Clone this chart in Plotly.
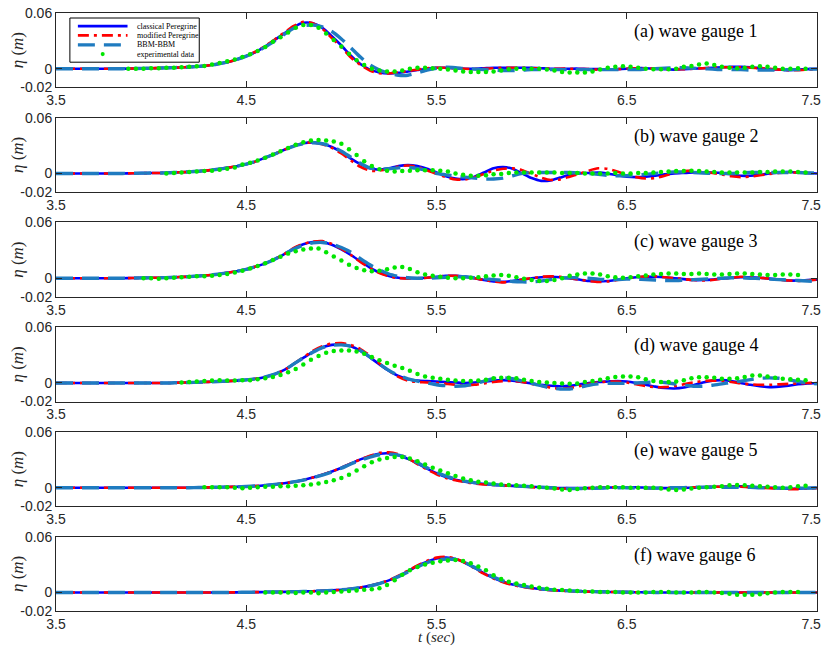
import numpy as np
import plotly.graph_objects as go
from plotly.subplots import make_subplots

# time axis: models sampled every 0.05 s from 3.5 s, measurements every 0.04 s
t_model_start = 3.5
dt_model = 0.05
dt_exp = 0.04

# surface elevation in mm, one list per gauge and model
# gauge 1
cp_1 = [0, 0, 0, 0, 0, 0, 0, 0, 0.2, 0.3,
        0.5, 0.7, 1, 1.3, 1.8, 2.5, 3.5, 5, 7, 10,
        13.5, 18, 24, 31, 38, 45, 49.5, 49, 44, 35,
        25, 14, 5, -1, -4, -5, -4.5, -3, -1.5, 0,
        1, 1, 0.5, 0, 0, 0.5, 1, 1, 1, 1,
        1, 0.5, 0, 0, 0, 0, -0.5, -0.5, -1, -0.5,
        0, 0.5, 0.5, 0, -0.5, -1, -0.5, 0, 0.5, 1,
        1.5, 2, 2, 1.5, 0.5, -0.5, -1, -1.5, -1, -0.5,
        0]
mp_1 = [0, 0, 0, 0, 0, 0, 0, 0, 0.2, 0.3,
        0.5, 0.7, 1, 1.3, 1.8, 2.5, 3.5, 5, 7, 10,
        13.5, 18.5, 24.5, 31.5, 39, 46, 50.5, 49, 43, 33,
        23, 12, 4, -2, -5, -5, -4, -2.5, -1, 0.5,
        1, 1, 0.5, 0, -0.5, 0, 0.5, 1, 1, 1,
        0.5, 0.5, 0, 0, 0, -0.5, -0.5, -1, -1, -0.5,
        0, 0.5, 0.5, 0, -0.5, -0.5, -0.5, 0, 0.5, 1,
        1.5, 1.5, 1.5, 1, 0.5, 0, -1, -1.5, -1.5, -1,
        -0.5]
bb_1 = [0, 0, 0, 0, 0, 0, 0, 0, 0.2, 0.3,
        0.5, 0.7, 1, 1.3, 1.8, 2.5, 3.5, 5, 7, 10,
        13.5, 18, 23.5, 30, 37, 43.5, 46.5, 47, 45, 40,
        32, 22.5, 12.5, 4, -1.5, -5, -7, -7, -4.5, -1.5,
        0.5, 1.5, 1, 0, -0.5, -1, -1.5, -2, -2, -1.5,
        -1, -1, -1, -1, -1, -1, -1, -1, -1, -1,
        -1, -1, -0.5, 0, 0.5, 1, 1, 0.5, 0, -0.5,
        -1, -1, -1, -1.5, -1.5, -1.5, -1.5, -1, -1, -0.5,
        -0.5]
ex_1 = [0, 0, 0, 0.5, 0.5, 1, 1, 1.5, 2, 2.5,
        3, 4.5, 6, 8, 10, 12.5, 15.5, 19, 23.5, 29,
        34, 39, 44, 47, 47, 44, 38, 31, 24, 16,
        9, 4, 0, -2, -3, -3, -2, 0, 1, 1,
        0.5, 0, -1, -2, -3, -3.5, -3.5, -3.5, -3, -2,
        -0.5, 0, 0, 0, 0, -1, -2, -3.5, -4, -4,
        -4, -3, -1, 1, 2, 2.5, 2, 1, 0, -0.5,
        -0.5, -0.5, 0, 2, 3, 4.5, 5.5, 4, 2, 1,
        0.5, 1, 2, 2.5, 2, 1, 0, 0, 0.5, 0]

# gauge 2
cp_2 = [0, 0, 0, 0, 0, 0, 0, 0, 0.2, 0.3,
        0.4, 0.5, 0.8, 1.2, 1.7, 2.4, 3.3, 4.5, 6, 7.8,
        10, 13, 17, 21, 25.5, 29.5, 32.5, 33.5, 32, 28.5,
        23, 16, 10, 5.5, 4, 5.5, 8, 9, 8, 5,
        1, -3, -5.5, -6, -3.5, 1, 5.5, 7, 5, 0,
        -5, -8, -7.5, -4.5, -1.5, 0, 0.5, 1, 0, -2,
        -3.5, -4, -3.5, -2.5, -1, 0, 0.5, 1, 1, 1,
        0.5, -1, -2.5, -2.5, -1.5, 0, 1, 1.5, 1, 0.5,
        0]
mp_2 = [0, 0, 0, 0, 0, 0, 0, 0, 0.2, 0.3,
        0.4, 0.5, 0.8, 1.2, 1.7, 2.4, 3.3, 4.5, 6, 7.8,
        10, 13, 17, 21, 25.5, 29.5, 32.5, 33.5, 31.5, 27.5,
        21.5, 14, 7, 3, 3, 5, 7.5, 8.5, 7, 3.5,
        -0.5, -4, -6.5, -6.5, -4, -0.5, 3, 5, 5.5, 3.5,
        -0.5, -4.5, -7, -6.5, -3.5, -0.5, 3, 5.5, 5, 2,
        -1.5, -4, -5.5, -5, -2.5, 0.5, 2.5, 3, 2, 0.5,
        -1, -3, -4, -3.5, -2, -0.5, 0.5, 1, 1, 0.5,
        0]
bb_2 = [0, 0, 0, 0, 0, 0, 0, 0, 0.2, 0.3,
        0.4, 0.5, 0.8, 1.2, 1.7, 2.4, 3.3, 4.5, 6, 7.8,
        10, 13, 17, 21, 25.5, 29.5, 32, 33, 32, 29,
        24, 17.5, 11, 6, 4.5, 5, 6, 6.5, 5.5, 3,
        0, -1.5, -3, -4, -5, -6, -6, -5, -2.5, 0,
        1, 1, 1, 1, 1, 0.5, 0, -1, -2, -2.5,
        -2.5, -2, -1, 0, 1, 1.5, 1.5, 1, 0.5, 0,
        0, 0, 0.5, 1, 1, 1, 1, 1, 1, 0.5,
        0.5]
ex_2 = [0, 0.5, 1, 1.5, 2, 2.5, 3, 4, 5, 6.5,
        9.5, 11.5, 14, 17, 20.5, 24, 27.5, 31, 33.5, 35.5,
        36, 35.5, 34.5, 32, 26, 20, 13, 8, 4.5, 3,
        2, 2.5, 3, 3.5, 3.5, 3.5, 3, 2, 0, -1.5,
        -2.5, -2.5, -2, -1, -0.5, 0.5, 1, 1, 1, 1,
        1, 1, 0.5, 0.5, 0.5, 0, 0, 0, 0, 0.5,
        0, 0, 0.5, 0.5, 1, 1.5, 2, 2.5, 2.5, 3,
        2.5, 2, 1.5, 1, 1, 1, 1, 1, 1.5, 1.5,
        2, 2, 2, 1.5, 1]

# gauge 3
cp_3 = [0, 0, 0, 0, 0, 0, 0, 0, 0.2, 0.3,
        0.4, 0.5, 0.8, 1.2, 1.7, 2.4, 3.2, 4.3, 5.8, 7.5,
        9.5, 12.5, 16, 20.5, 26, 32, 36.5, 39, 39, 36,
        31, 25, 18, 11.5, 6, 2.5, 0.5, 0, 0, 0.5,
        1.5, 2.5, 2.5, 1.5, 0, -2, -3.5, -4, -3, -1.5,
        0, 1, 1.5, 1, 0, -1.5, -3, -3.5, -3, -1.5,
        0, 1, 1.5, 1.5, 1, 0, -1, -2, -2, -1.5,
        -0.5, 0.5, 1, 1, 0.5, -0.5, -1.5, -2.5, -2.5, -2,
        -1.5]
mp_3 = [0, 0, 0, 0, 0, 0, 0, 0, 0.2, 0.3,
        0.4, 0.5, 0.8, 1.2, 1.7, 2.4, 3.2, 4.3, 5.8, 7.5,
        9.5, 12.5, 16, 20.5, 26, 32.5, 37, 39.5, 40, 37,
        31.5, 25, 17.5, 11, 5.5, 2, 0, -0.5, 0, 0.5,
        1.5, 2.5, 2.5, 1.5, 0, -2, -3.5, -4.5, -3.5, -1.5,
        0, 1.5, 2, 1.5, 0, -1.5, -3, -4, -3.5, -2,
        0, 1, 2, 2, 1, 0, -1, -2, -2.5, -2,
        -0.5, 0.5, 1.5, 1.5, 0.5, -0.5, -1.5, -2.5, -3, -2.5,
        -1.5]
bb_3 = [0, 0, 0, 0, 0, 0, 0, 0, 0.2, 0.3,
        0.4, 0.5, 0.8, 1.2, 1.7, 2.4, 3.2, 4.3, 5.8, 7.5,
        9.5, 12.5, 16, 20.5, 26, 31.5, 35.5, 38, 38.5, 37,
        33, 28, 21, 14.5, 9, 4.5, 2, 0.5, 0, 0,
        0.5, 1, 1.5, 1.5, 0.5, -0.5, -1.5, -2.5, -3.5, -4,
        -4, -3, -1.5, 0, 0.5, 0.5, 0, -1, -1.5, -1.5,
        -1, -1, -1.5, -2, -2.5, -2.5, -2, -1.5, -1, -0.5,
        0, 0.5, 0.5, 0, -0.5, -1, -1.5, -2, -2.5, -3,
        -3.5]
ex_3 = [0, 0, -0.5, 0, 0.5, 1, 1.5, 2, 2, 2.5,
        3.5, 4.5, 6, 8, 10.5, 13, 16, 19.5, 23, 26.5,
        29, 31, 32, 32, 28, 23.5, 19, 14.5, 11, 8.5,
        7.5, 8, 9.5, 11.5, 12, 10, 6.5, 4, 2.5, 1.5,
        0.5, 0, 0, 0.5, 1, 2, 3, 3.5, 2.5, 1,
        -0.5, -2, -3, -3, -2, 0, 2.5, 4, 5, 5,
        4, 2, 1, 0.5, 1, 2, 3, 4, 4.5, 5,
        5, 4.5, 4.5, 5, 4.5, 4, 4, 4.5, 5, 5,
        4.5, 4, 3.5, 3.5, 4, 4, 3.5]

# gauge 4
cp_4 = [0, 0, 0, 0, 0, 0, 0, 0, 0, 0,
        0, 0, 0, 0.3, 0.5, 0.8, 1.1, 1.5, 2, 2.5,
        3.3, 4.5, 6.5, 9.5, 14, 20.5, 27, 33.5, 38.5, 41,
        41.5, 39.5, 34.5, 27.5, 20, 13, 7.5, 4, 2.5, 2,
        1.5, 1, 0.5, 0, 0.5, 1.5, 2.5, 3, 2.5, 1,
        -0.5, -2, -3, -3.5, -3, -1.5, 0, 1, 1.5, 2,
        1.5, 0, -2, -4, -5.5, -6, -5, -2.5, 0.5, 2.5,
        3, 2, 0, -2, -3.5, -4.5, -4, -3, -1.5, -0.5,
        0]
mp_4 = [0, 0, 0, 0, 0, 0, 0, 0, 0, 0,
        0, 0, 0, 0.3, 0.5, 0.8, 1.1, 1.5, 2, 2.5,
        3.3, 4.5, 6.5, 9.5, 14, 20.5, 27.5, 34.5, 39.5, 42.5,
        43, 41, 36.5, 29.5, 21, 13, 6.5, 2.5, 1, 0.5,
        0, -1, -2, -2.5, -2, -0.5, 1, 2, 2, 1,
        -1, -3, -5, -6, -5.5, -3.5, -1, 0.5, 1.5, 1.5,
        0.5, -1.5, -3.5, -4.5, -4.5, -3.5, -1.5, 0.5, 2, 2.5,
        2, 1, -0.5, -1.5, -2, -2, -1.5, -1, -0.5, 0,
        0]
bb_4 = [0, 0, 0, 0, 0, 0, 0, 0, 0, 0,
        0, 0, 0, 0.3, 0.5, 0.8, 1.1, 1.5, 2, 2.5,
        3.3, 4.5, 6.5, 9.5, 14, 20.5, 27, 33, 38, 40.5,
        41, 39.5, 35, 28, 20.5, 13.5, 8, 4.5, 2, 0,
        -2, -3, -3.5, -3, -1, 2, 4.5, 5.5, 4.5, 2,
        -0.5, -3, -5.5, -6.5, -6.5, -5, -2.5, -1, -0.5, -0.5,
        -0.5, 0, 0.5, 1, 0.5, -1, -2.5, -3.5, -3.5, -2.5,
        -1, 0.5, 2, 3.5, 5, 5.5, 5, 3.5, 1.5, 0,
        -1]
ex_4 = [0.5, 1, 1.5, 2, 2.5, 3, 2.5, 2.5, 3, 3,
        4, 5, 6.5, 8.5, 11.5, 15, 20, 25, 29, 32.5,
        34.5, 35, 35, 34, 31.5, 28, 24.5, 21.5, 18.5, 16,
        13, 9.5, 7, 5.5, 4.5, 3.5, 2.5, 2, 2, 2.5,
        3.5, 5, 5.5, 5.5, 5, 3.5, 2, 1, 0.5, 0,
        -0.5, -1, -0.5, 1, 2, 3.5, 5, 6.5, 7, 7,
        6, 4, 2, 1, 1, 1.5, 3, 5, 6, 6,
        5.5, 4.5, 4.5, 5, 6.5, 8, 8, 7, 5.5, 4.5,
        4, 3.5, 3]

# gauge 5
cp_5 = [0, 0, 0, 0, 0, 0, 0, 0, 0, 0,
        0, 0, 0, 0, 0, 0.2, 0.3, 0.5, 0.7, 1,
        1.3, 1.8, 2.5, 3.5, 4.7, 6.3, 8.3, 11, 14, 17.5,
        21.5, 26, 30.5, 34, 36.5, 37, 35, 31, 26, 20.5,
        15.5, 11.5, 8.5, 6.5, 5, 4, 3, 2.5, 2, 1.5,
        1, 0.5, 0, -0.5, -0.5, -0.5, -0.5, -0.5, 0, 0.5,
        0.5, 0.5, 0, -0.5, -0.5, -0.5, 0, 0, 0.5, 1,
        1, 1.5, 1.5, 1, 0.5, 0, -0.5, -1, -1, -0.5,
        0]
mp_5 = [0, 0, 0, 0, 0, 0, 0, 0, 0, 0,
        0, 0, 0, 0, 0, 0.2, 0.3, 0.5, 0.7, 1,
        1.3, 1.8, 2.5, 3.5, 4.7, 6.3, 8.3, 11, 14, 17.5,
        21.5, 26, 30.5, 34.5, 37.5, 38, 36, 31.5, 25.5, 19.5,
        14.5, 10.5, 8, 6, 4.5, 3.5, 3, 2.5, 2, 1.5,
        0.5, 0, -0.5, -1, -1, -1, -0.5, 0, 0.5, 0.5,
        0.5, 0, -0.5, -0.5, -0.5, 0, 0, 0.5, 0.5, 1,
        1, 1, 1, 0.5, 0, -0.5, -1, -1.5, -1.5, -1,
        -0.5]
bb_5 = [0, 0, 0, 0, 0, 0, 0, 0, 0, 0,
        0, 0, 0, 0, 0, 0.2, 0.3, 0.5, 0.7, 1,
        1.3, 1.8, 2.5, 3.5, 4.7, 6.2, 8.1, 10.7, 13.5, 17,
        21, 25.5, 29.5, 33, 35.5, 36, 35, 32, 27, 21.5,
        16.5, 12.5, 9.5, 7, 5.5, 4.5, 3.5, 2.5, 2, 1.5,
        1, 0.5, 0, -0.5, -1, -1, -1, -0.5, 0, 0,
        0, -0.5, -0.5, -0.5, 0, 0, 0, 0.5, 0.5, 0.5,
        0.5, 0.5, 0.5, 0.5, 0, 0, -0.5, -0.5, -0.5, -0.5,
        0]
ex_5 = [0.5, 0.5, 0.5, 0.5, 0, -0.5, 0, 0.5, 1, 1,
        1.5, 1.5, 2, 2.5, 3.5, 4.5, 6, 8, 10.5, 14,
        18.5, 23, 27.5, 30.5, 32, 33, 33, 31.5, 28.5, 25,
        21.5, 18.5, 15.5, 12.5, 10, 8, 6.5, 5.5, 4.5, 3.5,
        3, 2.5, 2, 1.5, 0.5, 0, -1, -2, -2.5, -1.5,
        -0.5, 0, 0.5, 0.5, 0.5, 0.5, 0, 0, 0, 0,
        -1, -2, -2.5, -2, -1, 0, 0.5, 1, 1.5, 2.5,
        3, 2.5, 2, 1.5, 1, 0.5, 0, 0.5, 1.5, 2]

# gauge 6
cp_6 = [0, 0, 0, 0, 0, 0, 0, 0, 0, 0,
        0, 0, 0, 0, 0, 0, 0, 0, 0, 0.1,
        0.2, 0.3, 0.4, 0.5, 0.6, 0.8, 1, 1.3, 1.7, 2.2,
        2.9, 3.9, 5.3, 7.2, 9.7, 13, 17.5, 23, 28.5, 33,
        36.5, 37.5, 36, 32, 26.5, 20.5, 15.5, 11.5, 8.5, 6.3,
        4.7, 3.5, 2.6, 2, 1.5, 1.2, 0.9, 0.7, 0.5, 0.4,
        0.3, 0.2, 0.1, 0, 0, 0, 0, 0, 0, 0,
        0, 0, 0, 0, 0, 0, 0, 0, 0, 0,
        0]
mp_6 = [0, 0, 0, 0, 0, 0, 0, 0, 0, 0,
        0, 0, 0, 0, 0, 0, 0, 0, 0, 0.1,
        0.2, 0.3, 0.4, 0.5, 0.6, 0.8, 1, 1.3, 1.7, 2.2,
        2.9, 3.9, 5.3, 7.2, 9.8, 13.2, 18, 23.5, 29, 34,
        37.5, 38.5, 36.5, 32, 26, 20, 15, 11, 8, 6,
        4.5, 3.3, 2.5, 1.9, 1.4, 1.1, 0.8, 0.6, 0.5, 0.4,
        0.3, 0.2, 0.1, 0, 0, 0, 0, 0, 0, 0,
        0, 0, 0, 0, 0, 0, 0, 0, 0, 0,
        0]
bb_6 = [0, 0, 0, 0, 0, 0, 0, 0, 0, 0,
        0, 0, 0, 0, 0, 0, 0, 0, 0, 0.1,
        0.2, 0.3, 0.4, 0.5, 0.6, 0.8, 1, 1.3, 1.7, 2.2,
        2.9, 3.9, 5.3, 7.1, 9.5, 12.7, 17, 22, 27.5, 32,
        35, 36, 35.5, 32, 27, 21.5, 16.5, 12.5, 9.5, 7,
        5.2, 4, 3, 2.3, 1.7, 1.3, 1, 0.8, 0.6, 0.4,
        0.3, 0.2, 0.1, 0, 0, 0, 0, 0, 0, 0,
        0, 0, 0, 0, 0, 0, 0, 0, 0, 0,
        0]
ex_6 = [0, 0, 0, 0, -0.5, 0, 0, -1, 0, 0.5,
        1, 1.5, 2, 3, 3.5, 4.5, 8, 13, 19, 24,
        27.5, 30, 32, 33.5, 34.5, 35, 34, 31.5, 28, 24,
        18.5, 14.5, 11.5, 9.5, 8, 6.5, 5, 4, 3, 2.5,
        2, 1.5, 1, 1, 0.5, 0.5, 0.5, 0, 0, 0,
        0, 0.5, 0.5, 0.5, 0, 0, 0, 0.5, 0.5, 0,
        -0.5, -1.5, -2.5, -2.5, -2.5, -2, -1, 0, 0.5, 0.5,
        0.5]

# first measured sample of each gauge (s)
exp_start = [3.88, 4.08, 3.96, 4.16, 4.28, 4.60]

gauge_labels = ["(a) wave gauge 1", "(b) wave gauge 2", "(c) wave gauge 3",
                "(d) wave gauge 4", "(e) wave gauge 5", "(f) wave gauge 6"]
series_names = ["classical Peregrine", "modified Peregrine", "BBM-BBM",
                "experimental data"]
x_tickvals = [3.5, 4.5, 5.5, 6.5, 7.5]
# last label padded so it is not clipped at the right edge of the page
x_ticktext = ["3.5", "4.5", "5.5", "6.5", "7.5\u00a0\u00a0\u00a0"]
y_tickvals = [-0.02, 0, 0.06]
y_ticktext = ["-0.02", "0", "0.06"]

classical = [cp_1, cp_2, cp_3, cp_4, cp_5, cp_6]
modified = [mp_1, mp_2, mp_3, mp_4, mp_5, mp_6]
bbm = [bb_1, bb_2, bb_3, bb_4, bb_5, bb_6]
measured = [ex_1, ex_2, ex_3, ex_4, ex_5, ex_6]

c_blue = "#0000ff"
c_red = "#ff0000"
c_bbm = "#1f7bc0"
c_green = "#00e600"
axis_col = "#262626"
serif = "Liberation Serif"
sans = "Liberation Sans"
red_dash = "11px,5px,3px,5px"
bbm_dash = "17px,9px"

fig = make_subplots(rows=6, cols=1, vertical_spacing=0.051)

for i in range(6):
    row = i + 1
    tm = t_model_start + dt_model * np.arange(len(classical[i]))
    te = exp_start[i] + dt_exp * np.arange(len(measured[i]))
    fig.add_trace(go.Scatter(x=tm, y=np.array(classical[i]) / 1000, mode="lines",
        name=series_names[0], showlegend=False,
        line=dict(color=c_blue, width=2.6, shape="spline", smoothing=0.6)),
        row=row, col=1)
    fig.add_trace(go.Scatter(x=tm, y=np.array(modified[i]) / 1000, mode="lines",
        name=series_names[1], showlegend=False,
        line=dict(color=c_red, width=2.6, dash=red_dash,
                  shape="spline", smoothing=0.6)),
        row=row, col=1)
    fig.add_trace(go.Scatter(x=tm, y=np.array(bbm[i]) / 1000, mode="lines",
        name=series_names[2], showlegend=False,
        line=dict(color=c_bbm, width=3.4, dash=bbm_dash,
                  shape="spline", smoothing=0.6)),
        row=row, col=1)
    fig.add_trace(go.Scatter(x=te, y=np.array(measured[i]) / 1000, mode="markers",
        name=series_names[3], showlegend=False,
        marker=dict(color=c_green, size=4.5)),
        row=row, col=1)
    xa = "x" if row == 1 else f"x{row}"
    ya = "y" if row == 1 else f"y{row}"
    fig.add_annotation(x=6.53, y=0.04, xref=xa, yref=ya, text=gauge_labels[i],
        showarrow=False, xanchor="left", yanchor="middle",
        font=dict(family=serif, size=18, color="black"))
    fig.update_xaxes(range=[3.5, 7.5], tickvals=x_tickvals, ticktext=x_ticktext,
        row=row, col=1)
    fig.update_yaxes(range=[-0.02, 0.06], tickvals=y_tickvals, ticktext=y_ticktext,
        title=dict(text="<i>η</i> (<i>m</i>)", standoff=1,
                   font=dict(family=serif, size=17, color=axis_col)),
        row=row, col=1)

fig.update_xaxes(showline=True, mirror="ticks", linecolor=axis_col, linewidth=1,
    ticks="inside", ticklen=6, tickcolor=axis_col, showgrid=False, zeroline=False,
    automargin=False, ticklabeloverflow="allow",
    tickfont=dict(family=sans, size=14, color=axis_col))
fig.update_yaxes(showline=True, mirror="ticks", linecolor=axis_col, linewidth=1,
    ticks="inside", ticklen=6, tickcolor=axis_col, showgrid=False, zeroline=False,
    automargin=False, ticklabeloverflow="allow",
    tickfont=dict(family=sans, size=14, color=axis_col))

# the page body adds an 8px offset, so margins are shifted by that amount
M_L, M_R, M_T, M_B = 48, 21, 5, 46
H = 649 - M_T - M_B
def py(yp):
    return 1 - (yp - 8 - M_T) / H

fig.add_annotation(x=0.5, y=py(637), xref="paper", yref="paper",
    text="<i>t</i> (<i>sec</i>)", showarrow=False, xanchor="center", yanchor="middle",
    font=dict(family=serif, size=15, color=axis_col))

# legend box in the first panel, placed in that panel's data units
fig.add_shape(type="rect", xref="x", yref="y", x0=3.573, x1=4.253,
    y0=0.0070, y1=0.0546, line=dict(color="black", width=1), fillcolor="white")
leg_y = [0.0459, 0.0359, 0.0257, 0.0157]
leg_styles = [dict(color=c_blue, width=2.6),
              dict(color=c_red, width=2.6, dash=red_dash),
              dict(color=c_bbm, width=3.4, dash=bbm_dash)]
for k, name in enumerate(series_names):
    if k < 3:
        fig.add_shape(type="line", xref="x", yref="y", x0=3.615, x1=3.876,
            y0=leg_y[k], y1=leg_y[k], line=leg_styles[k])
    else:
        fig.add_shape(type="circle", xref="x", yref="y",
            x0=3.735, x1=3.756, y0=leg_y[k] - 0.0022, y1=leg_y[k] + 0.0022,
            fillcolor=c_green, line=dict(width=0))
    fig.add_annotation(x=3.913, y=leg_y[k], xref="x", yref="y",
        text=name, showarrow=False, xanchor="left", yanchor="middle",
        font=dict(family=serif, size=8, color="black"))

fig.update_layout(width=830, height=649,
    margin=dict(l=M_L, r=M_R, t=M_T, b=M_B),
    paper_bgcolor="white", plot_bgcolor="white", showlegend=False)

fig.write_html("out.html")
